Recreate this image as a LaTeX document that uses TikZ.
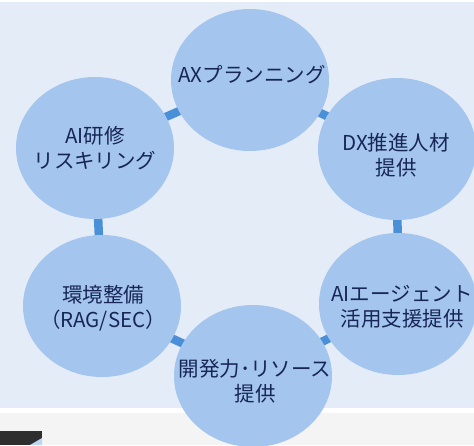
\documentclass[tikz,border=0pt]{standalone}
\usepackage{fontspec}
\newfontfamily\jp{Noto Sans CJK JP}
\usetikzlibrary{shapes.geometric}
\definecolor{bgblue}{HTML}{E4ECF8}
\definecolor{cfill}{HTML}{A4C5ED}
\definecolor{lnblue}{HTML}{4A90D9}
\definecolor{txt}{HTML}{172657}
\definecolor{lowgray}{HTML}{F4F4F4}
\pgfdeclarelayer{bglayer}
\pgfdeclarelayer{lnlayer}
\pgfsetlayers{bglayer,lnlayer,main}
\begin{document}
\begin{tikzpicture}[x=1pt,y=-1pt,
  bubble/.style={ellipse,fill=cfill,draw=none,minimum width=158pt,minimum height=142pt,inner sep=0pt},
  label/.style={font=\jp\fontsize{20.5}{25}\selectfont,text=txt,align=center,inner sep=0pt},
  link/.style={draw=lnblue,line width=8.5pt}]
\useasboundingbox (0,0) rectangle (474,445);
\begin{pgfonlayer}{bglayer}
  \fill[white] (0,0) rectangle (474,445);
  \fill[bgblue] (0,2) rectangle (474,408);
  \fill[lowgray] (0,413) rectangle (474,445);
  \fill[black!82] (0,431) rectangle (42,445);
  \fill[cfill!70!white] (30,445) -- (42,438) -- (42,445) -- cycle;
\end{pgfonlayer}
\node[bubble] (ax) at (250,80) {};
\node[bubble] (dx) at (397,149) {};
\node[bubble] (agent) at (398,304) {};
\node[bubble] (dev) at (253,376) {};
\node[bubble] (env) at (102,306) {};
\node[bubble] (edu) at (95,148) {};
\begin{pgfonlayer}{lnlayer}
  \draw[link] (ax.center) -- (dx.center);
  \draw[link] (dx.center) -- (agent.center);
  \draw[link] (agent.center) -- (dev.center);
  \draw[link] (dev.center) -- (env.center);
  \draw[link] (env.center) -- (edu.center);
  \draw[link] (edu.center) -- (ax.center);
\end{pgfonlayer}
\node[label] (tax) at (252,75) {AXプランニング};
\node[label] (tdx) at (396,155) {DX推進人材\\提供};
\node[label] (tagent) at (402,307) {AIエージェント\\活用支援提供};
\node[label] (tdev) at (255,381) {開発力･リソース\\提供};
\node[label] (tenv) at (103,308) {環境整備\\（RAG/SEC）};
\node[label] (tedu) at (95,148) {AI研修\\リスキリング};
\end{tikzpicture}
\end{document}
